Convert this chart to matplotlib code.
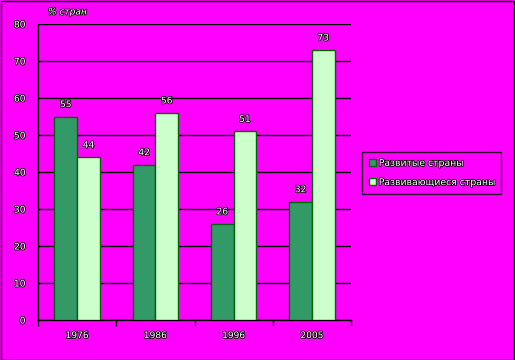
import matplotlib
matplotlib.use("Agg")
import matplotlib.pyplot as plt
import matplotlib.patheffects as pe
import numpy as np

years = ["1976", "1986", "1996", "2005"]
developed = [55, 42, 26, 32]
developing = [44, 56, 51, 73]
series_names = ["Развитые страны", "Развивающиеся страны"]

fig = plt.figure(figsize=(5.15, 3.6), dpi=100, facecolor="#FF00FF")
ax = fig.add_axes([38/515, 1 - 320/360, (351-38)/515, (320-24)/360])
ax.set_facecolor("#FF00FF")

x = np.arange(len(years)) + 0.5
w = 0.29
fx = [pe.withStroke(linewidth=1.2, foreground="black")]
b1 = ax.bar(x - w/2, developed, w, color="#339966", edgecolor="#006600", linewidth=1, label=series_names[0], zorder=3)
b2 = ax.bar(x + w/2, developing, w, color="#CCFFCC", edgecolor="#006600", linewidth=1, label=series_names[1], zorder=3)
for bars, vals in ((b1, developed), (b2, developing)):
    for r, v in zip(bars, vals):
        ax.text(r.get_x() + r.get_width()/2, v + 2, str(v), ha="center", va="bottom",
                fontsize=6.5, color="white", path_effects=fx, zorder=4)

ax.set_xlim(0, 4)
ax.set_ylim(0, 80)
ax.set_yticks(range(0, 81, 10))
ax.yaxis.grid(True, color="black", linewidth=1)
ax.set_axisbelow(True)
ax.set_xticks([0, 1, 2, 3, 4])
ax.set_xticklabels([])
ax.set_xticks(x, minor=True)
ax.set_xticklabels(years, minor=True)
ax.tick_params(axis="x", which="major", length=4, direction="out", width=1)
ax.tick_params(axis="x", which="minor", length=0, pad=8, labelsize=6.5, labelcolor="white")
ax.tick_params(axis="y", length=0, pad=9, labelsize=6.5, labelcolor="white")
for lab in ax.get_yticklabels() + ax.get_xticklabels(minor=True):
    lab.set_path_effects(fx)
for s in ["top", "right"]:
    ax.spines[s].set_visible(False)
for s in ["left", "bottom"]:
    ax.spines[s].set_linewidth(1)

fig.text(48/515, 1 - 12/360, "% стран", fontsize=6.5, color="white", style="italic",
         va="center", ha="left", path_effects=fx)

leg = ax.legend(loc="center left", bbox_to_anchor=(362/515, 1 - 173/360), bbox_transform=fig.transFigure,
                fontsize=6.7, frameon=True, fancybox=False, edgecolor="black", facecolor="#FF00FF",
                handlelength=0.8, handleheight=0.8, handletextpad=0.3, labelspacing=1.1, borderpad=0.7,
                borderaxespad=0)
leg.get_frame().set_linewidth(1)
for t in leg.get_texts():
    t.set_color("white")
    t.set_path_effects(fx)

fig.patches.append(plt.Rectangle((0.001, 0.001), 0.997, 0.997, transform=fig.transFigure,
                                 fill=False, edgecolor="black", linewidth=1))
fig.savefig("out.png", dpi=100, facecolor=fig.get_facecolor())
